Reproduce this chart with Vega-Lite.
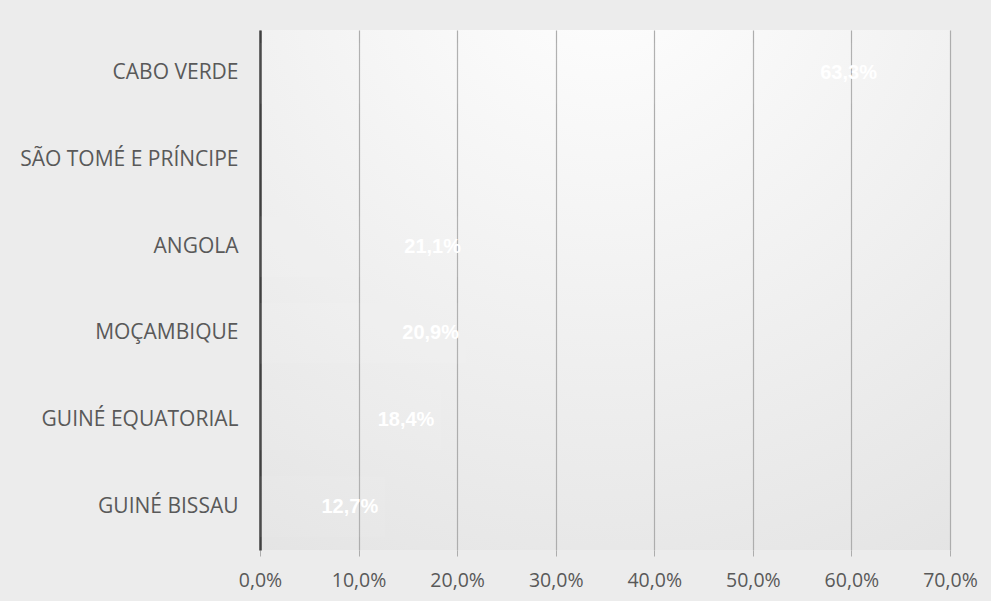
{
  "$schema": "https://vega.github.io/schema/vega-lite/v6.json",
  "width": 690,
  "height": 520,
  "autosize": {"type": "none"},
  "padding": {"left": 260, "top": 30, "right": 41, "bottom": 51},
  "background": "#ececec",
  "config": {
    "locale": {"number": {"decimal": ",", "thousands": ".", "grouping": [3], "currency": ["", " €"]}},
    "view": {"stroke": null, "fill": {"gradient": "radial", "x1": 0.5, "y1": 0.0, "r1": 0, "x2": 0.5, "y2": 0.0, "r2": 1.1, "stops": [{"offset": 0, "color": "#ffffff"}, {"offset": 1, "color": "#e2e2e2"}]}},
    "font": "Open Sans"
  },
  "data": {
    "values": [
      {"pais": "CABO VERDE", "valor": 0.633},
      {"pais": "SÃO TOMÉ E PRÍNCIPE", "valor": null},
      {"pais": "ANGOLA", "valor": 0.211},
      {"pais": "MOÇAMBIQUE", "valor": 0.209},
      {"pais": "GUINÉ EQUATORIAL", "valor": 0.184},
      {"pais": "GUINÉ BISSAU", "valor": 0.127}
    ]
  },
  "encoding": {
    "y": {
      "field": "pais", "type": "nominal", "sort": null,
      "scale": {"domain": ["CABO VERDE", "SÃO TOMÉ E PRÍNCIPE", "ANGOLA", "MOÇAMBIQUE", "GUINÉ EQUATORIAL", "GUINÉ BISSAU"], "paddingInner": 0.3, "paddingOuter": 0.15},
      "axis": {"title": null, "ticks": false, "domainColor": "#404040", "domainWidth": 2.5, "labelFont": "Open Sans", "labelFontSize": 21, "labelColor": "#595959", "labelPadding": 22, "labelLimit": 300}
    },
    "x": {
      "field": "valor", "type": "quantitative",
      "scale": {"domain": [0, 0.7], "nice": false},
      "axis": {"title": null, "format": ".1%", "values": [0, 0.1, 0.2, 0.3, 0.4, 0.5, 0.6, 0.7], "domain": false, "grid": true, "gridColor": "#adadad", "gridWidth": 1.2, "tickColor": "#adadad", "tickSize": 6, "labelFont": "Open Sans", "labelFontSize": 19.5, "labelColor": "#595959", "labelPadding": 15, "labelFlush": false, "labelOverlap": false, "labelBound": false}
    }
  },
  "layer": [
    {"mark": {"type": "bar", "fill": "#ffffff", "opacity": 0.06}},
    {"mark": {"type": "text", "align": "right", "dx": -7, "font": "Liberation Sans", "fontSize": 20, "fontWeight": "bold", "color": "#ffffff"},
     "encoding": {"text": {"field": "valor", "type": "quantitative", "format": ".1%"}}}
  ]
}
